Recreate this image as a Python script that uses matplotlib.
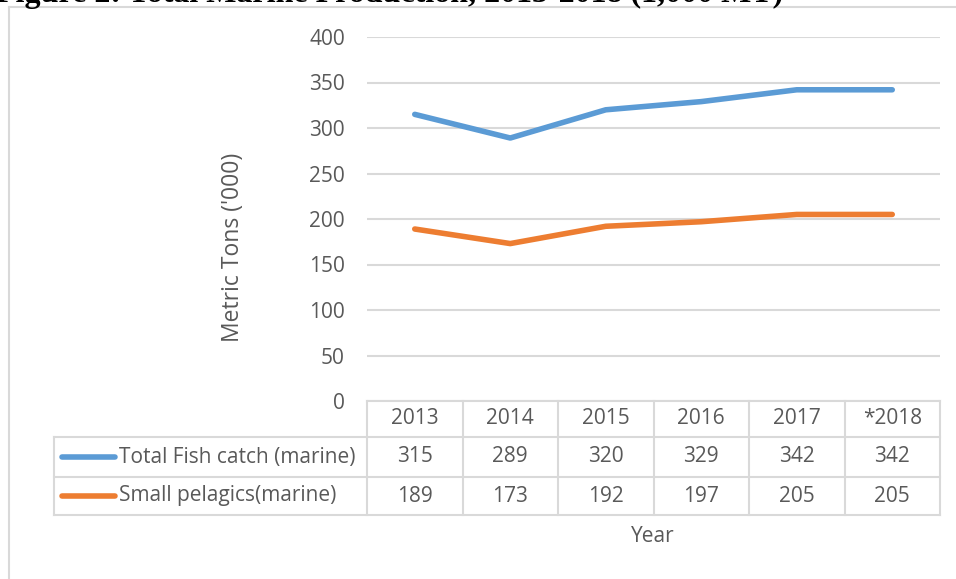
import matplotlib
matplotlib.use("Agg")
import matplotlib.pyplot as plt
from matplotlib.lines import Line2D

years = ["2013", "2014", "2015", "2016", "2017", "*2018"]
total_fish = [315, 289, 320, 329, 342, 342]
small_pelagics = [189, 173, 192, 197, 205, 205]
series_names = ["Total Fish catch (marine)", "Small pelagics(marine)"]
series_colors = ["#5B9BD5", "#ED7D31"]
y_ticks = [0, 50, 100, 150, 200, 250, 300, 350, 400]

W, H = 956, 579
DPI = 100
FONT = "Open Sans"
FS = 15
TXT = "#595959"
GRID = "#D9D9D9"

fig = plt.figure(figsize=(W / DPI, H / DPI), dpi=DPI)

def fx(px):
    return px / W

def fy(py):
    return 1 - py / H

# axes placement (pixels)
ax_l, ax_r, ax_t, ax_b = 367, 940, 37, 401
ax = fig.add_axes([fx(ax_l), fy(ax_b), fx(ax_r) - fx(ax_l), fy(ax_t) - fy(ax_b)])
ax.set_xlim(-0.5, len(years) - 0.5)
ax.set_ylim(0, 400)
for s in ax.spines.values():
    s.set_visible(False)
ax.set_xticks([])
ax.set_yticks(y_ticks)
ax.set_yticklabels([str(t) for t in y_ticks], fontsize=FS, color=TXT, family=FONT)
ax.tick_params(axis="y", length=0, pad=16)
ax.grid(axis="y", color=GRID, linewidth=1.5)
ax.set_axisbelow(True)

x = list(range(len(years)))
for vals, col in zip([total_fish, small_pelagics], series_colors):
    ax.plot(x, vals, color=col, linewidth=4.0, solid_capstyle="round", solid_joinstyle="round")

# outer chart border
fig.add_artist(Line2D([fx(9), fx(9)], [fy(7), fy(H + 5)], color=GRID, linewidth=1.5))
fig.add_artist(Line2D([fx(9), fx(W + 5)], [fy(7), fy(7)], color=GRID, linewidth=1.5))

# title (cut off at top, as in the source)
fig.text(fx(-4), fy(2), "Figure 2: Total Marine Production, 2013-2018 (1,000 MT)",
         family="Liberation Serif", fontweight="bold", fontsize=23, color="black",
         ha="left", va="baseline")

# y label
fig.text(fx(233), fy(247), "Metric Tons ('000)", rotation=90, fontsize=16.5,
         family=FONT, color=TXT, ha="center", va="center")

# data table
col_edges = [ax_l + i * (ax_r - ax_l) / len(years) for i in range(len(years) + 1)]
row_edges = [401, 437, 477, 515]
lab_l = 54
lw = 1.5
fig.add_artist(Line2D([fx(ax_l), fx(ax_r)], [fy(row_edges[0])] * 2, color=GRID, linewidth=lw))
for r in row_edges[1:]:
    fig.add_artist(Line2D([fx(lab_l), fx(ax_r)], [fy(r)] * 2, color=GRID, linewidth=lw))
fig.add_artist(Line2D([fx(lab_l)] * 2, [fy(row_edges[1]), fy(row_edges[3])], color=GRID, linewidth=lw))
for c in col_edges:
    fig.add_artist(Line2D([fx(c)] * 2, [fy(row_edges[0]), fy(row_edges[3])], color=GRID, linewidth=lw))

centers = [(col_edges[i] + col_edges[i + 1]) / 2 for i in range(len(years))]
for cx, yr in zip(centers, years):
    fig.text(fx(cx), fy((row_edges[0] + row_edges[1]) / 2), yr, fontsize=FS, family=FONT,
             color=TXT, ha="center", va="center")
for ri, (vals, name, col) in enumerate(zip([total_fish, small_pelagics], series_names, series_colors)):
    cy = (row_edges[ri + 1] + row_edges[ri + 2]) / 2
    for cx, v in zip(centers, vals):
        fig.text(fx(cx), fy(cy), str(v), fontsize=FS, family=FONT, color=TXT,
                 ha="center", va="center")
    fig.add_artist(Line2D([fx(62), fx(115)], [fy(cy), fy(cy)], color=col, linewidth=4.0,
                          solid_capstyle="round"))
    fig.text(fx(119), fy(cy), name, fontsize=FS, family=FONT, color=TXT, ha="left", va="center")

# x label
fig.text(fx(653), fy(537), "Year", fontsize=FS, family=FONT, color=TXT, ha="center", va="center")

fig.savefig("out.png", dpi=DPI)
